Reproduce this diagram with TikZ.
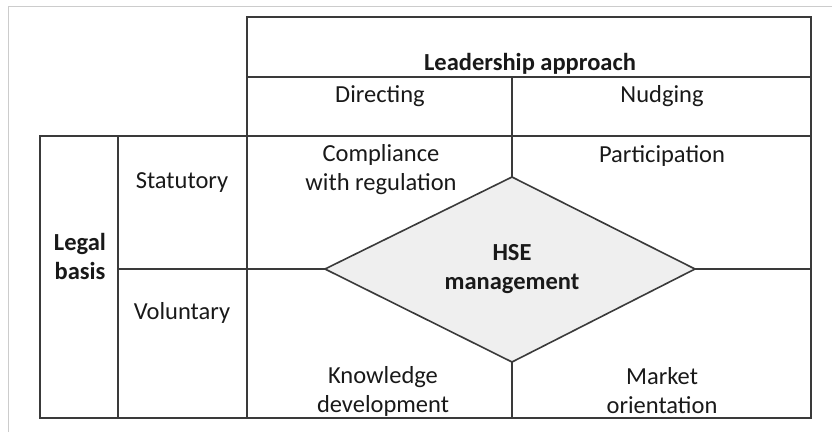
\documentclass[tikz,border=0pt]{standalone}
\usepackage{fontspec}
\setmainfont{Carlito}

\definecolor{rulegray}{HTML}{3A3A3A}
\definecolor{framegray}{HTML}{CCCCCC}
\definecolor{hubfill}{HTML}{EFEFEF}

\tikzset{
  grid/.style={draw=rulegray, line width=2pt},
  cell/.style={align=center, text=black!90, inner sep=0pt},
  head/.style={cell, font=\fontsize{24.5}{29}\selectfont\bfseries},
}

\begin{document}
\begin{tikzpicture}[x=1pt, y=-1pt, line join=miter,
    font=\fontsize{24.5}{29}\selectfont]
  \useasboundingbox (0,0) rectangle (832,432);
  \draw[framegray, line width=1pt] (8,432) -- (8,6) -- (832,6);

  % table corners
  \coordinate (TL) at (247,17);
  \coordinate (BR) at (811,418);
  \coordinate (LL) at (40,136);
  \coordinate (M) at (512,269);

  % diamond points
  \coordinate (W) at (325,269);
  \coordinate (N) at (512,177);
  \coordinate (E) at (695,269);
  \coordinate (S) at (512,362);

  \draw[grid] (TL) rectangle (BR);
  \draw[grid] (LL) rectangle (247,418);
  \draw[grid] (247,77) -- (811,77);
  \draw[grid] (247,136) -- (811,136);
  \draw[grid] (118,136) -- (118,418);
  \draw[grid] (512,77) -- (N);
  \draw[grid] (S) -- (512,418);
  \draw[grid] (118,269) -- (W);
  \draw[grid] (E) -- (811,269);
  \draw[draw=rulegray, line width=1.6pt, fill=hubfill] (W) -- (N) -- (E) -- (S) -- cycle;

  % headings
  \node[head] (lead) at (530,64) {Leadership approach};
  \node[cell] (dir) at (380,96) {Directing};
  \node[cell] (nud) at (662,96) {Nudging};
  \node[head] (legal) at (80,256) {Legal\\basis};
  \node[cell] (stat) at (182,183) {Statutory};
  \node[cell] (vol) at (182,313) {Voluntary};

  % quadrants
  \node[cell] (comp) at (381,170) {Compliance\\with regulation};
  \node[cell] (part) at (662,156) {Participation};
  \node[cell] (know) at (383,391) {Knowledge\\development};
  \node[cell] (mark) at (662,391) {Market\\orientation};
  \node[head] (hse) at (M) {HSE\\management};
\end{tikzpicture}
\end{document}
